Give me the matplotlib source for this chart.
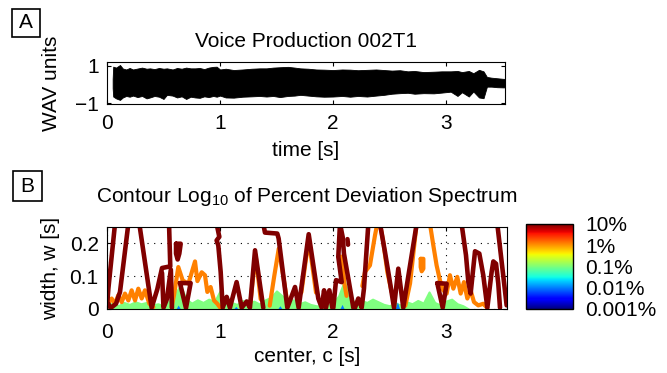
import matplotlib
matplotlib.use("Agg")
import matplotlib.pyplot as plt
from matplotlib import cm, colors
from matplotlib.patches import Rectangle

plt.rcParams['font.family'] = ['Liberation Sans', 'DejaVu Sans']
plt.rcParams['mathtext.fontset'] = 'custom'
plt.rcParams['mathtext.rm'] = 'Liberation Sans'

# --- panel A: waveform envelope (time [s], upper / lower WAV units) ---
wav_t = [0.05, 0.055, 0.08, 0.115, 0.14, 0.17, 0.2, 0.23, 0.27, 0.31, 0.35, 0.38,
         0.42, 0.46, 0.5, 0.53, 0.58, 0.62, 0.66, 0.7, 0.74, 0.78, 0.82, 0.86,
         0.9, 0.94, 0.97, 1.0, 1.05, 1.12, 1.2, 1.28, 1.35, 1.41, 1.47, 1.53,
         1.6, 1.66, 1.71, 1.78, 1.85, 1.92, 2.0, 2.08, 2.15, 2.22, 2.3, 2.38,
         2.45, 2.52, 2.59, 2.66, 2.72, 2.8, 2.89, 2.96, 3.04, 3.1, 3.14, 3.2,
         3.24, 3.29, 3.33, 3.36, 3.4, 3.45, 3.5, 3.53]
wav_hi = [0.3, 0.95, 0.90, 1.04, 0.85, 0.80, 0.88, 0.80, 0.85, 0.90, 0.84, 0.86,
          0.82, 0.88, 0.84, 0.86, 0.80, 0.88, 0.84, 0.90, 0.86, 0.86, 0.88, 0.82,
          0.90, 0.94, 0.95, 0.80, 0.84, 0.77, 0.80, 0.84, 0.86, 0.86, 0.90, 0.92,
          0.94, 0.90, 0.86, 0.84, 0.80, 0.79, 0.77, 0.80, 0.79, 0.76, 0.78, 0.80,
          0.77, 0.74, 0.76, 0.70, 0.72, 0.66, 0.68, 0.70, 0.70, 0.72, 0.66, 0.72,
          0.60, 0.78, 0.70, 0.40, 0.36, 0.33, 0.30, 0.29]
wav_lo = [-0.2, -0.65, -0.75, -0.83, -0.70, -0.62, -0.66, -0.60, -0.68, -0.62, -0.75, -0.70,
          -0.62, -0.66, -0.78, -0.56, -0.60, -0.70, -0.64, -0.78, -0.66, -0.70, -0.72, -0.64,
          -0.68, -0.62, -0.66, -0.60, -0.70, -0.71, -0.66, -0.64, -0.62, -0.65, -0.62, -0.68,
          -0.62, -0.60, -0.56, -0.60, -0.64, -0.66, -0.65, -0.62, -0.66, -0.62, -0.65, -0.60,
          -0.56, -0.50, -0.47, -0.45, -0.50, -0.47, -0.48, -0.44, -0.39, -0.62, -0.42, -0.65,
          -0.38, -0.70, -0.74, -0.12, -0.12, -0.15, -0.16, -0.16]

# --- panel B: contour traces (center c [s], width w [s]) ---
# 10% level (dark red)
red_a_t = [0.071, 0.012, 0.003, 0.032, 0.080, 0.115, 0.189]
red_a_w = [0.26, 0.062, 0.021, 0.003, 0.016, 0.052, 0.26]
red_b_t = [0.286, 0.395, 0.445, 0.487, 0.56, 0.549]
red_b_w = [0.26, 0.004, 0.06, 0.125, 0.13, 0.26]
red_c_t = [0.487, 0.50, 0.53, 0.565, 0.575]
red_c_w = [0.11, 0.004, 0.03, 0.12, 0.004]
red_drop_t = [0.611, 0.652, 0.640, 0.625, 0.611, 0.611]
red_drop_w = [0.199, 0.199, 0.169, 0.151, 0.169, 0.199]
red_tri_t = [0.646, 0.740, 0.699, 0.646]
red_tri_w = [0.079, 0.079, 0.003, 0.079]
red_e_t = [0.97, 0.994, 0.97, 0.985, 1.006, 1.024, 1.059, 1.088, 1.147, 1.192,
           1.236, 1.265, 1.310, 1.383]
red_e_w = [0.26, 0.220, 0.209, 0.194, 0.113, 0.004, 0.037, 0.004, 0.082, 0.004,
           0.023, 0.004, 0.179, 0.004]
red_f_t = [1.383, 1.398, 1.507, 1.519, 1.596, 1.664, 1.696, 1.785, 1.870, 1.9,
           1.921, 1.938, 1.968, 1.994, 2.003, 2.027, 2.077, 2.047, 2.062, 2.086,
           2.097, 2.136, 2.180, 2.195, 2.224, 2.254, 2.274, 2.313]
red_f_w = [0.26, 0.233, 0.230, 0.215, 0.004, 0.067, 0.004, 0.228, 0.032, 0.004,
           0.057, 0.004, 0.057, 0.004, 0.004, 0.088, 0.082, 0.159, 0.26, 0.219,
           0.169, 0.092, 0.004, 0.004, 0.032, 0.004, 0.062, 0.26]
red_blob_t = [2.128, 2.133]
red_blob_w = [0.213, 0.196]
red_h_t = [2.416, 2.460, 2.504, 2.540, 2.578, 2.622, 2.741]
red_h_w = [0.26, 0.174, 0.082, 0.004, 0.123, 0.004, 0.26]
red_tri2_t = [2.923, 3.006, 2.971, 2.923]
red_tri2_w = [0.079, 0.077, 0.004, 0.079]
red_i_t = [3.138, 3.177, 3.198, 3.218, 3.257, 3.295, 3.330, 3.366, 3.404, 3.419,
           3.443, 3.463, 3.478]
red_i_w = [0.26, 0.164, 0.082, 0.047, 0.176, 0.169, 0.103, 0.004, 0.113, 0.145,
           0.138, 0.077, 0.004]
red_j_t = [3.454, 3.537]
red_j_w = [0.26, 0.011]

# 1% level (orange)
or_a_t = [0.0, 0.041, 0.071, 0.1, 0.13, 0.159, 0.189, 0.218, 0.248, 0.277, 0.307,
          0.336, 0.375, 0.41]
or_a_w = [0.011, 0.032, 0.016, 0.042, 0.021, 0.047, 0.026, 0.057, 0.026, 0.062, 0.032,
          0.057, 0.016, 0.006]
or_b_t = [0.572, 0.593, 0.631, 0.670, 0.720, 0.779, 0.80, 0.838, 0.867, 0.888, 0.917,
          0.947, 0.976, 1.0]
or_b_w = [0.006, 0.042, 0.128, 0.087, 0.077, 0.145, 0.085, 0.112, 0.103, 0.052, 0.067,
          0.026, 0.016, 0.005]
or_c_t = [1.27, 1.3, 1.315, 1.33, 1.36]
or_c_w = [0.02, 0.12, 0.165, 0.12, 0.03]
or_d_t = [1.44, 1.48, 1.52, 1.56, 1.6]
or_d_w = [0.01, 0.10, 0.184, 0.10, 0.01]
or_e_t = [1.72, 1.76, 1.785, 1.81, 1.85]
or_e_w = [0.05, 0.15, 0.21, 0.15, 0.05]
or_f_t = [2.07, 2.09, 2.10, 2.12]
or_f_w = [0.16, 0.12, 0.08, 0.04]
or_g_t = [2.26, 2.283, 2.327, 2.372, 2.392, 2.416, 2.445, 2.481, 2.519]
or_g_w = [0.07, 0.113, 0.133, 0.225, 0.26, 0.26, 0.204, 0.113, 0.052]
or_h_t = [2.64, 2.682, 2.74, 2.858, 2.888, 2.917, 2.947, 2.976, 3.006, 3.035, 3.065,
          3.1, 3.13, 3.159, 3.189, 3.218, 3.248, 3.286, 3.33, 3.366]
or_h_w = [0.01, 0.078, 0.26, 0.26, 0.194, 0.133, 0.087, 0.057, 0.047, 0.103, 0.062,
          0.098, 0.047, 0.082, 0.032, 0.057, 0.021, 0.011, 0.016, 0.003]
or_drop_t = [2.776, 2.8, 2.8, 2.785, 2.776, 2.776]
or_drop_w = [0.153, 0.153, 0.123, 0.115, 0.128, 0.153]

# 0.1% level (green band)
green_t = [0.00, 0.05, 0.10, 0.15, 0.20, 0.25, 0.30, 0.35, 0.40, 0.45, 0.50, 0.55,
           0.60, 0.65, 0.70, 0.75, 0.80, 0.85, 0.90, 0.95, 1.00, 1.05, 1.10, 1.15,
           1.20, 1.25, 1.30, 1.35, 1.40, 1.45, 1.50, 1.55, 1.60, 1.65, 1.70, 1.75,
           1.80, 1.85, 1.90, 1.95, 2.00, 2.05, 2.10, 2.15, 2.20, 2.25, 2.30, 2.35,
           2.40, 2.45, 2.50, 2.55, 2.60, 2.65, 2.70, 2.75, 2.80, 2.85, 2.90, 2.95,
           3.00, 3.05, 3.10, 3.15, 3.20]
green_w = [0.012, 0.018, 0.010, 0.020, 0.014, 0.022, 0.016, 0.020, 0.012, 0.016, 0.010, 0.024,
           0.045, 0.072, 0.030, 0.018, 0.028, 0.020, 0.030, 0.022, 0.055, 0.012, 0.020, 0.014,
           0.026, 0.018, 0.024, 0.015, 0.028, 0.035, 0.055, 0.040, 0.020, 0.028, 0.016, 0.022,
           0.014, 0.010, 0.008, 0.012, 0.018, 0.040, 0.085, 0.035, 0.018, 0.026, 0.020, 0.030,
           0.022, 0.014, 0.010, 0.018, 0.012, 0.022, 0.016, 0.026, 0.018, 0.052, 0.020, 0.012,
           0.024, 0.030, 0.016, 0.010, 0.000]

# 0.01% level (blue patches)
blue_t = [0.63, 1.14, 1.53, 2.08, 2.57]
blue_w = [0.012, 0.008, 0.010, 0.014, 0.022]

cbar_ticks = [-3, -2, -1, 0, 1]
cbar_labels = ['0.001%', '0.01%', '0.1%', '1%', '10%']

FS = 15
C_RED, C_ORANGE, C_GREEN, C_BLUE = '#800000', '#ff8000', '#80ff80', '#0080ff'

fig = plt.figure(figsize=(6.67, 3.73), dpi=100)
ax1 = fig.add_axes([107/667, 1-104/373, 398/667, 42/373])
ax2 = fig.add_axes([107/667, 1-309/373, 400/667, 82/373])
cax = fig.add_axes([526/667, 1-309/373, 47/667, 85/373])

# panel A
ax1.fill_between(wav_t, wav_lo, wav_hi, color='black', lw=0.6)
ax1.set_xlim(0, 3.52)
ax1.set_ylim(-1.05, 1.2)
ax1.set_xticks([0, 1, 2, 3])
ax1.set_yticks([-1, 1])
ax1.set_yticklabels(['\u22121', '1'])
ax1.tick_params(direction='in', top=True, right=True, length=3, labelsize=FS, pad=6)
ax1.tick_params(axis='x', pad=7)
ax1.set_title('Voice Production 002T1', fontsize=FS, pad=11)
ax1.set_xlabel('time [s]', fontsize=FS, labelpad=6)
ax1.set_ylabel('WAV units', fontsize=FS)
ax1.yaxis.set_label_coords(-0.115, 0.5)

# panel B
ax2.grid(True, color='black', linestyle=(0, (1, 5)), lw=0.8)
ax2.set_axisbelow(True)
ax2.fill_between(green_t, 0, green_w, color=C_GREEN, lw=1.5, ec=C_GREEN)
for c, h in zip(blue_t, blue_w):
    ax2.fill_between([c - 0.02, c, c + 0.02], 0, [0, h, 0], color=C_BLUE, lw=0)

orange = [(or_a_t, or_a_w), (or_b_t, or_b_w), (or_c_t, or_c_w), (or_d_t, or_d_w),
          (or_e_t, or_e_w), (or_f_t, or_f_w), (or_g_t, or_g_w), (or_h_t, or_h_w),
          (or_drop_t, or_drop_w)]
for x, y in orange:
    ax2.plot(x, y, color=C_ORANGE, lw=3.0, solid_joinstyle='round', solid_capstyle='round')

red = [(red_a_t, red_a_w), (red_b_t, red_b_w), (red_c_t, red_c_w), (red_drop_t, red_drop_w),
       (red_tri_t, red_tri_w), (red_e_t, red_e_w), (red_f_t, red_f_w),
       (red_blob_t, red_blob_w), (red_h_t, red_h_w), (red_tri2_t, red_tri2_w),
       (red_i_t, red_i_w), (red_j_t, red_j_w)]
for x, y in red:
    ax2.plot(x, y, color=C_RED, lw=3.3, solid_joinstyle='round', solid_capstyle='round')

ax2.set_xlim(0, 3.54)
ax2.set_ylim(0, 0.25)
ax2.set_xticks([0, 1, 2, 3])
ax2.set_yticks([0, 0.1, 0.2])
ax2.set_yticklabels(['0', '0.1', '0.2'])
ax2.tick_params(direction='in', top=True, right=True, length=3, labelsize=FS, pad=6)
ax2.tick_params(axis='x', pad=10)
ax2.set_title(r'Contour Log$_{\mathregular{10}}$ of Percent Deviation Spectrum', fontsize=FS, pad=18)
ax2.set_xlabel('center, c [s]', fontsize=FS, labelpad=4)
ax2.set_ylabel('width, w [s]', fontsize=FS)
ax2.yaxis.set_label_coords(-0.1175, 0.5)

# colorbar
sm = cm.ScalarMappable(norm=colors.Normalize(-3, 1), cmap='jet')
cb = fig.colorbar(sm, cax=cax, ticks=cbar_ticks)
cb.ax.set_yticklabels(cbar_labels)
cb.ax.tick_params(length=0, labelsize=FS, pad=9)
cb.outline.set_linewidth(1)

# panel letters in boxes (pixel boxes: x0, x1, y0, y1)
for letter, (x0, x1, y0, y1) in [('A', (12, 40, 9, 37)), ('B', (13, 42, 171, 201))]:
    fig.patches.append(Rectangle((x0/667, 1 - y1/373), (x1 - x0)/667, (y1 - y0)/373,
                                 transform=fig.transFigure, fc='white', ec='black', lw=1.2))
    fig.text((x0 + x1)/2/667, 1 - (y0 + y1)/2/373, letter, ha='center', va='center',
             fontsize=FS)

fig.savefig('out.png', dpi=100)
